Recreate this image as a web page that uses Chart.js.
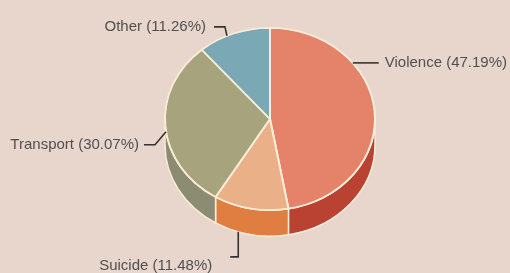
<!DOCTYPE html>
<html><head><meta charset="utf-8">
<script src="https://cdn.jsdelivr.net/npm/chart.js@4/dist/chart.umd.min.js"></script>
<style>html,body{margin:0;padding:0;background:#e8d6cd;}#wrap{width:510px;height:273px;position:relative;}</style>
</head><body><div id="wrap"><canvas id="c" width="510" height="273"></canvas></div>
<script>
const categories = ["Violence", "Suicide", "Transport", "Other"];
const shares = [47.19, 11.48, 30.07, 11.26];
const topColors = ["#e4826a", "#eab087", "#a6a37d", "#7aa8b4"];
const sideColors = ["#b94232", "#e07d41", "#8c8c73", "#6a8f99"];

const K = 92/106, DEPTH = 26, EDGE = "#f8ecd8";
// label placement (style): anchor angle on rim (deg), whether on bottom rim, leader offsets, text offset, align
const labelLayout = [
  {ang:-38, bottom:false, path:[[26,0]], text:[32,0], align:"left"},
  {ang:107.6, bottom:true, path:[[0,25],[-8,25]], text:[-26,34], align:"right"},
  {ang:172, bottom:false, path:[[-11,13],[-22,13]], text:[-27,13], align:"right"},
  {ang:-114.2, bottom:false, path:[[-2,-9],[-13,-9]], text:[-21,-9], align:"right"}
];

const pie3d = {
  id:"pie3d",
  beforeDatasetsDraw(chart){
    const ctx = chart.ctx, meta = chart.getDatasetMeta(0);
    const el0 = meta.data[0]; const cx = el0.x, cy = el0.y, r = el0.outerRadius;
    ctx.save();
    meta.data.forEach((el,i)=>{
      const a1 = Math.max(el.startAngle,0), a2 = Math.min(el.endAngle,Math.PI);
      if (a2 <= a1) return;
      ctx.beginPath();
      ctx.ellipse(cx, cy, r, r*K, 0, a1, a2);
      ctx.ellipse(cx, cy+DEPTH, r, r*K, 0, a2, a1, true);
      ctx.closePath();
      ctx.fillStyle = sideColors[i]; ctx.fill();
      ctx.lineWidth = 1.5; ctx.strokeStyle = EDGE; ctx.stroke();
    });
    ctx.restore();
    ctx.save();
    ctx.translate(cx, cy); ctx.scale(1, K); ctx.translate(-cx, -cy);
  },
  afterDatasetsDraw(chart){
    const ctx = chart.ctx; ctx.restore();
    const meta = chart.getDatasetMeta(0);
    const el0 = meta.data[0]; const cx = el0.x, cy = el0.y, r = el0.outerRadius;
    ctx.save();
    ctx.font = "15px 'Liberation Sans', Arial, sans-serif";
    ctx.textBaseline = "middle";
    labelLayout.forEach((L,i)=>{
      const a = L.ang*Math.PI/180;
      const ax = cx + r*Math.cos(a), ay = cy + r*K*Math.sin(a) + (L.bottom?DEPTH:0);
      ctx.beginPath(); ctx.moveTo(ax, ay);
      L.path.forEach(p=>ctx.lineTo(ax+p[0], ay+p[1]));
      ctx.strokeStyle = "#333"; ctx.lineWidth = 1.6; ctx.stroke();
      ctx.fillStyle = "#505050"; ctx.textAlign = L.align;
      ctx.fillText(categories[i] + " (" + shares[i].toFixed(2) + "%)", ax+L.text[0], ay+L.text[1]);
    });
    ctx.restore();
  }
};

new Chart(document.getElementById("c"), {
  type:"pie",
  data:{labels:categories, datasets:[{data:shares, backgroundColor:topColors, borderColor:EDGE, borderWidth:2}]},
  options:{
    responsive:false, animation:false,
    layout:{padding:{left:164, right:134, top:13, bottom:48}},
    plugins:{legend:{display:false}, tooltip:{enabled:false}}
  },
  plugins:[pie3d]
});
</script></body></html>
